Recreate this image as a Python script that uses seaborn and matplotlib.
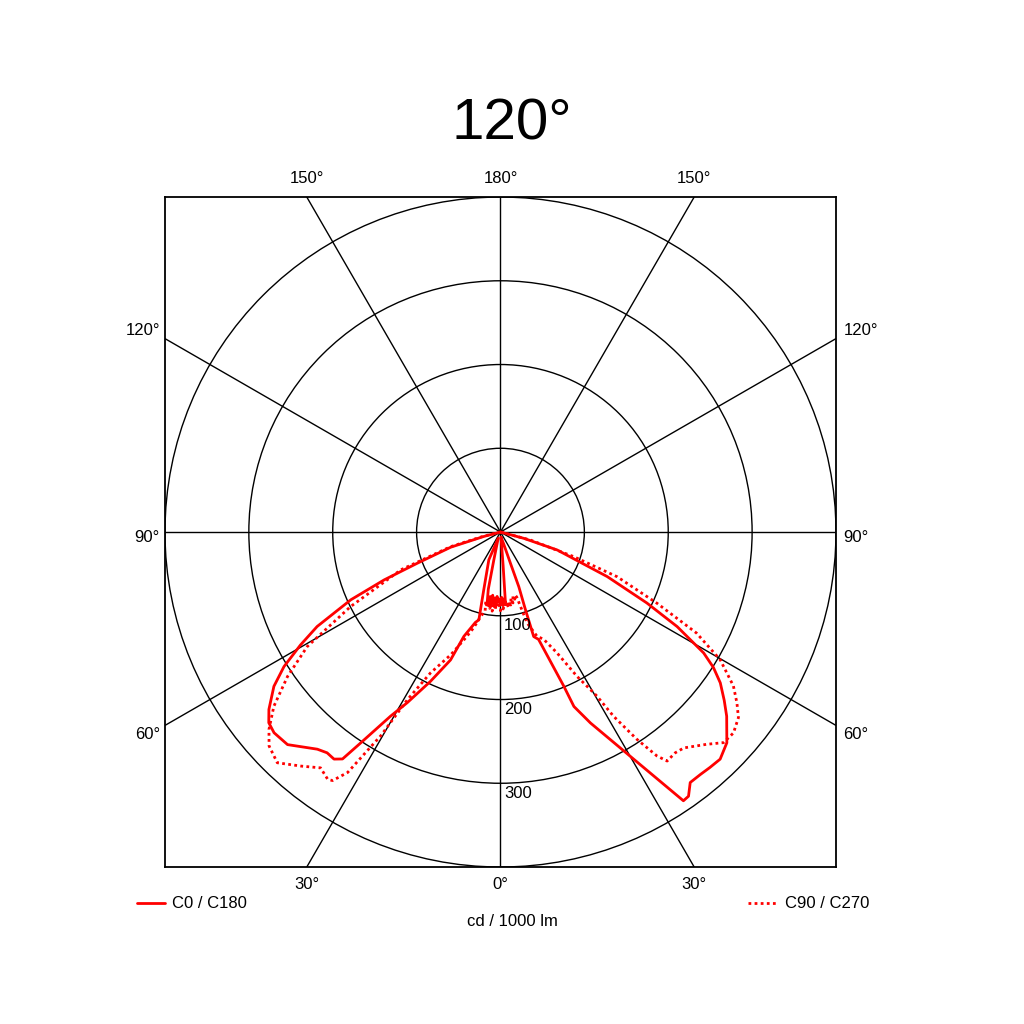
import numpy as np
import pandas as pd
import matplotlib
matplotlib.use("Agg")
import matplotlib.pyplot as plt
from matplotlib.lines import Line2D
import seaborn as sns

# gamma angle (deg, 0 = nadir, negative = C180 / C270 side) and intensity cd/1000 lm
c0_gamma = [-90, -75, -73, -69.4, -67.6, -65.6, -62.7, -60.5, -58.1, -55.7, -52.5, -50.5,
            -48.4, -45, -40.1, -38.1, -36.2, -34.8, -33.5, -30.8, -28.6, -25.1, -21.3,
            -19.3, -15.5, -13.8, -16.1, -22.7, -20, -13.4, -12, -10.5, -9.8,
            -9, -8, -7, -6, -5, -4, -3, -2, -1, 0, 1, 2, 3, 4,
            4.5, 6, 15, 17.7, 18.5, 17.8, 17.6, 19.5, 22.3, 22.8, 25.2, 30, 34.2, 35.4,
            37.1, 39.5, 41.6, 44, 47, 50.8, 53, 55.5, 57.5, 59.2, 61.8, 64.1, 67.3, 72.4,
            74.8, 90]
c0_cd = [0, 21, 62, 106, 150, 196, 246, 274, 304, 327, 348, 358,
         361, 359, 339, 335, 336, 330, 302, 256, 232, 197, 164,
         132, 112, 108, 72, 36, 8, 34, 70, 88, 82,
         78, 88, 76, 86, 79, 90, 77, 84, 80, 86, 78, 88, 80, 85,
         40, 6, 15, 40, 69, 97, 131, 136, 199, 226, 252, 309, 388, 387,
         375, 375, 376, 377, 369, 348, 334, 318, 301, 282, 239, 194, 138, 71,
         29, 0]

c90_gamma = [-90, -76, -73.6, -69.2, -63.5, -59.3, -55.8, -52.4, -49.5, -47.2, -44, -40.4,
             -37.3, -34.9, -34, -32.4, -30.4, -29, -26.4, -22, -18, -15.5, -13.3, -11, -12,
             -10, -9, -8, -7, -6, -5, -4, -3, -2, -1, 0, 1, 2, 3, 4, 5, 6, 7, 8, 9, 10, 11,
             12, 13, 14, 16.3, 19.3, 21.9, 25, 27.9, 30.4, 31.5, 33.3, 34.9, 36, 38.3, 40.3,
             44.1, 46.6, 49.2, 52, 54.1, 56.5, 59.8, 62.7, 65.5, 69, 71.4, 75, 90]
c90_cd = [0, 22, 62, 127, 200, 268, 307, 341, 363, 376, 383, 367,
          354, 360, 358, 340, 282, 229, 188, 158, 132, 118, 104, 96, 84,
          92, 84, 92, 86, 95, 88, 93, 85, 90, 87, 94, 86, 92, 85, 90, 84, 91, 83, 88, 80,
          86, 78, 82, 77, 80, 113, 132, 138, 159, 195, 227, 258, 296, 326, 338, 336, 338,
          353, 366, 367, 360, 348, 333, 303, 263, 205, 149, 92, 37, 0]

rings = [100, 200, 300, 400]
ring_labels = ["100", "200", "300"]
spokes = [0, 30, 60, 90, 120, 150]


def to_xy(gamma, cd):
    g = np.radians(gamma)
    cd = np.asarray(cd, dtype=float)
    return pd.DataFrame({"x": cd * np.sin(g), "y": -cd * np.cos(g)})


sns.set_style("white")
plt.rcParams["font.family"] = ["Liberation Sans", "DejaVu Sans"]
plt.rcParams["text.color"] = "black"

fig = plt.figure(figsize=(10.24, 10.24), dpi=100)
ax = fig.add_axes([0.1611, 0.1533, 0.6553, 0.6543])
ax.set_xlim(-400, 400)
ax.set_ylim(-400, 400)
for s in ax.spines.values():
    s.set_visible(True)
    s.set_color("black")
    s.set_linewidth(1.3)

# grid
for r in rings:
    ax.add_patch(plt.Circle((0, 0), r, fill=False, color="black", lw=1.0, zorder=1))
for a in spokes:
    t = np.radians(a)
    ax.axline((0, 0), (np.sin(t), np.cos(t)), color="black", lw=1.0, zorder=1)

sns.lineplot(data=to_xy(c0_gamma, c0_cd), x="x", y="y", sort=False, estimator=None,
             color="red", lw=2.0, ax=ax, legend=False, zorder=3)
sns.lineplot(data=to_xy(c90_gamma, c90_cd), x="x", y="y", sort=False, estimator=None,
             color="red", lw=2.0, linestyle=(0, (1.0, 1.2)), ax=ax, legend=False, zorder=3)
ax.set_xlabel("")
ax.set_ylabel("")
ax.set_xticks([])
ax.set_yticks([])

# ring labels
for r, lab in zip(rings, ring_labels):
    ax.text(4, -r - 3, lab, ha="left", va="top", fontsize=12, color="black", zorder=4)

# angle labels
kw = dict(fontsize=12, color="black", clip_on=False)
ax.text(0, 422, "180°", ha="center", va="center", **kw)
for sx in (-1, 1):
    ax.text(sx * 231, 422, "150°", ha="center", va="center", **kw)
    ax.text(sx * 231, -421, "30°", ha="center", va="center", **kw)
ax.text(0, -421, "0°", ha="center", va="center", **kw)
for lab, yy in (("120°", 241), ("90°", -6), ("60°", -242)):
    ax.text(-406, yy, lab, ha="right", va="center", **kw)
    ax.text(409, yy, lab, ha="left", va="center", **kw)

# title and legend
fig.text(0.5, 1 - 125 / 1024, "120°", ha="center", va="center", fontsize=42, color="black")
ly = 1 - 903 / 1024
fig.add_artist(Line2D([137 / 1024, 165 / 1024], [ly, ly], color="red", lw=2.0))
fig.text(172 / 1024, ly, "C0 / C180", ha="left", va="center", fontsize=12, color="black")
fig.add_artist(Line2D([748 / 1024, 778 / 1024], [ly, ly], color="red", lw=2.0,
                      linestyle=(0, (1.0, 1.2))))
fig.text(785 / 1024, ly, "C90 / C270", ha="left", va="center", fontsize=12, color="black")
fig.text(0.5, 1 - 922 / 1024, "cd / 1000 lm", ha="center", va="center", fontsize=12,
         color="black")

fig.savefig("out.png", dpi=100, facecolor="white")
